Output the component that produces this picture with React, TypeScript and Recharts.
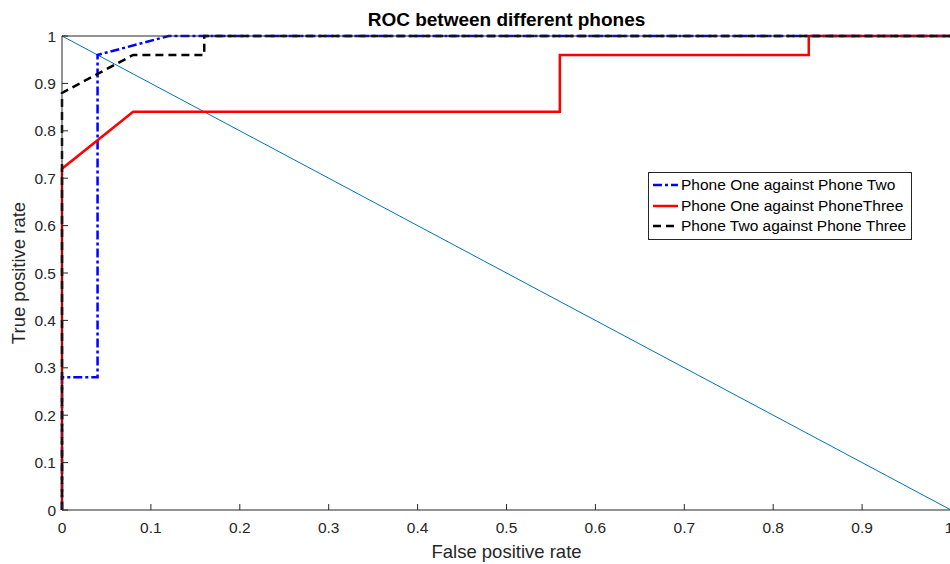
import { LineChart, Line, XAxis, YAxis, Legend } from "recharts";

const axisTicks = [0, 0.1, 0.2, 0.3, 0.4, 0.5, 0.6, 0.7, 0.8, 0.9, 1];

const chanceFpr = [0, 1];
const chanceTpr = [1, 0];

const oneTwoFpr = [0, 0, 0.04, 0.04, 0.12, 1];
const oneTwoTpr = [0, 0.28, 0.28, 0.96, 1, 1];

const oneThreeFpr = [0, 0, 0.08, 0.56, 0.56, 0.84, 0.84, 1];
const oneThreeTpr = [0, 0.72, 0.84, 0.84, 0.96, 0.96, 1, 1];

const twoThreeFpr = [0, 0, 0.04, 0.08, 0.16, 0.16, 1];
const twoThreeTpr = [0, 0.88, 0.92, 0.96, 0.96, 1, 1];

const toPoints = (xs: number[], ys: number[]) =>
  xs.map((x, i) => ({ x, y: ys[i] }));

const series = [
  { name: "Phone One against Phone Two", color: "#0000FF", dash: "9 3 3 3", data: toPoints(oneTwoFpr, oneTwoTpr) },
  { name: "Phone One against PhoneThree", color: "#FF0000", dash: undefined, data: toPoints(oneThreeFpr, oneThreeTpr) },
  { name: "Phone Two against Phone Three", color: "#000000", dash: "8 5", data: toPoints(twoThreeFpr, twoThreeTpr) },
];

const FONT = "'Liberation Sans', Arial, Helvetica, sans-serif";
const AXIS = "#262626";

const fmt = (v: number) => String(v);

const LegendBox = () => (
  <div
    style={{
      border: `1px solid ${AXIS}`,
      background: "#fff",
      padding: "2px 4px 2px 4px",
      fontFamily: FONT,
      fontSize: 15.5,
      color: "#000",
      width: 254,
    }}
  >
    {series.map((s) => (
      <div key={s.name} style={{ display: "flex", alignItems: "center", height: 20.5, whiteSpace: "nowrap" }}>
        <svg width={26} height={10} style={{ marginRight: 2 }}>
          <line x1={0} y1={5} x2={25} y2={5} stroke={s.color} strokeWidth={2.5} strokeDasharray={s.dash} />
        </svg>
        <span>{s.name}</span>
      </div>
    ))}
  </div>
);

export default function App() {
  return (
    <div style={{ position: "absolute", left: 0, top: 0, width: 950, height: 564, overflow: "hidden", background: "#fff" }}>
      <LineChart width={953} height={564} margin={{ top: 0, right: 1, bottom: 0, left: 0 }}>
        <XAxis
          dataKey="x"
          type="number"
          domain={[0, 1]}
          ticks={axisTicks}
          tickFormatter={fmt}
          height={54}
          stroke={AXIS}
          tickSize={-6}
          tickMargin={18}
          tick={{ fill: AXIS, fontSize: 15.5, fontFamily: FONT }}
          label={{ value: "False positive rate", position: "insideBottom", offset: 6, fill: AXIS, fontSize: 18.5, fontFamily: FONT }}
        />
        <XAxis
          xAxisId="top"
          orientation="top"
          dataKey="x"
          type="number"
          domain={[0, 1]}
          ticks={axisTicks}
          tickFormatter={() => ""}
          height={36}
          stroke={AXIS}
          tickSize={-6}
          label={{ value: "ROC between different phones", position: "insideTop", offset: 13, fill: "#000", fontSize: 19, fontWeight: "bold", fontFamily: FONT }}
        />
        <YAxis
          type="number"
          domain={[0, 1]}
          ticks={axisTicks}
          tickFormatter={fmt}
          width={62}
          stroke={AXIS}
          tickSize={-6}
          tickMargin={12}
          tick={{ fill: AXIS, fontSize: 15.5, fontFamily: FONT }}
          label={{ value: "True positive rate", angle: -90, position: "center", dx: -13, fill: AXIS, fontSize: 18.5, fontFamily: FONT }}
        />
        <YAxis
          yAxisId="right"
          orientation="right"
          type="number"
          domain={[0, 1]}
          ticks={axisTicks}
          tickFormatter={() => ""}
          width={1}
          stroke={AXIS}
          tickSize={-6}
        />
        <Line
          data={toPoints(chanceFpr, chanceTpr)}
          dataKey="y"
          type="linear"
          stroke="#0072BD"
          strokeWidth={1}
          dot={false}
          activeDot={false}
          isAnimationActive={false}
          legendType="none"
        />
        {series.map((s) => (
          <Line
            key={s.name}
            data={s.data}
            dataKey="y"
            name={s.name}
            type="linear"
            stroke={s.color}
            strokeWidth={2.5}
            strokeDasharray={s.dash}
            dot={false}
            activeDot={false}
            isAnimationActive={false}
          />
        ))}
        <Legend
          layout="vertical"
          align="center"
          verticalAlign="middle"
          content={() => <LegendBox />}
          wrapperStyle={{ left: 648, top: 172, width: "auto" }}
        />
      </LineChart>
    </div>
  );
}
